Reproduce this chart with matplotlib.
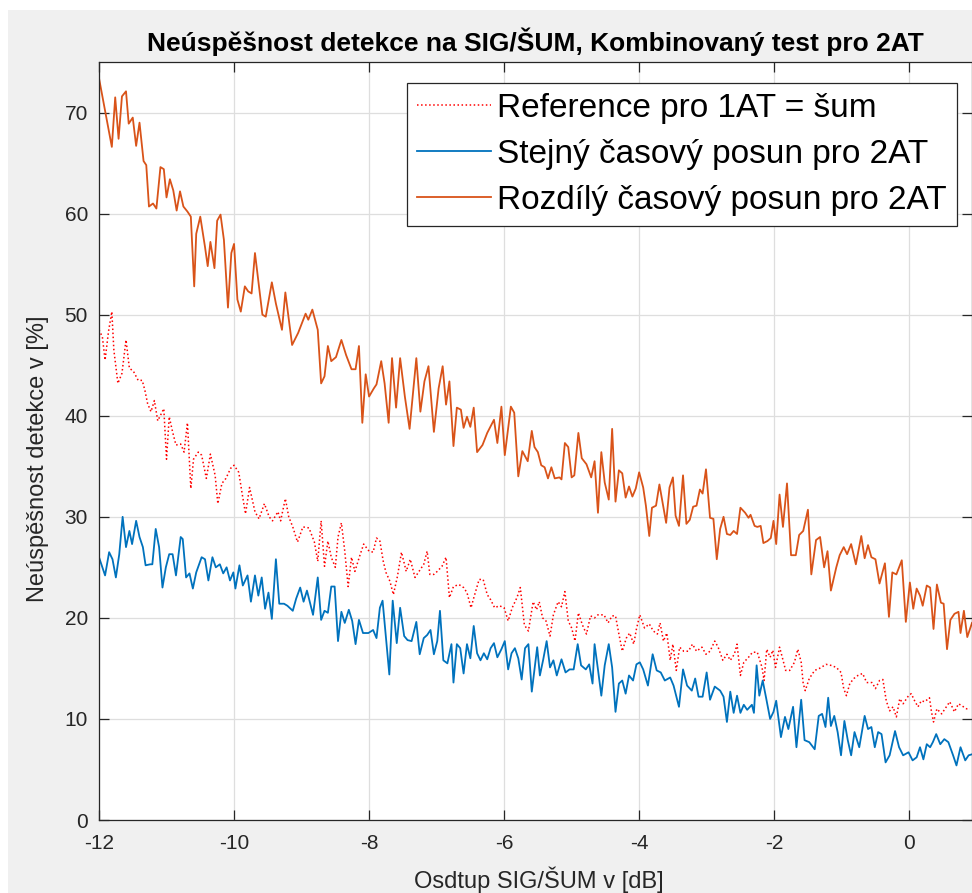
import matplotlib
matplotlib.use("Agg")
import matplotlib.pyplot as plt
from matplotlib.patches import Rectangle

plt.rcParams['font.family'] = ['Liberation Sans', 'DejaVu Sans']

TITLE = "Neúspěšnost detekce na SIG/ŠUM, Kombinovaný test pro 2AT"
XLABEL = "Osdtup SIG/ŠUM v [dB]"
YLABEL = "Neúspěšnost detekce v [%]"
LABELS = ["Reference pro 1AT = šum", "Stejný časový posun pro 2AT", "Rozdílý časový posun pro 2AT"]
XTICKS = [-12, -10, -8, -6, -4, -2, 0]
YTICKS = [0, 10, 20, 30, 40, 50, 60, 70]

# (SNR [dB], failure rate [%])
REFERENCE = [
    (-12.00, 48.5), (-11.95, 47.8), (-11.91, 45.5), (-11.86, 48.3), (-11.81, 50.3), (-11.78, 46.5),
    (-11.72, 43.2), (-11.66, 44.2), (-11.60, 47.5), (-11.55, 44.7), (-11.49, 44.4), (-11.42, 43.5),
    (-11.36, 43.5), (-11.32, 42.5), (-11.28, 41.2), (-11.23, 40.4), (-11.18, 41.5), (-11.13, 39.5),
    (-11.04, 40.7), (-11.00, 35.7), (-10.96, 39.9), (-10.91, 38.4), (-10.86, 37.1), (-10.79, 37.2),
    (-10.74, 36.4), (-10.69, 39.3), (-10.64, 32.8), (-10.60, 35.7), (-10.53, 36.4), (-10.48, 36.1),
    (-10.41, 33.8), (-10.35, 36.2), (-10.28, 34.1), (-10.24, 31.3), (-10.18, 33.3), (-10.12, 33.8),
    (-10.05, 34.8), (-10.00, 35.1), (-9.93, 34.4), (-9.88, 32.3), (-9.83, 30.3), (-9.77, 32.9),
    (-9.69, 30.5), (-9.63, 29.8), (-9.55, 31.3), (-9.48, 30.0), (-9.43, 29.6), (-9.35, 30.5),
    (-9.31, 29.6), (-9.24, 31.8), (-9.19, 30.0), (-9.13, 29.0), (-9.06, 27.5), (-8.98, 29.0),
    (-8.89, 28.9), (-8.81, 27.5), (-8.76, 25.6), (-8.71, 29.6), (-8.66, 25.1), (-8.61, 27.6),
    (-8.56, 26.0), (-8.50, 25.0), (-8.46, 28.0), (-8.41, 29.4), (-8.36, 26.6), (-8.31, 23.1),
    (-8.26, 26.0), (-8.21, 24.6), (-8.14, 26.1), (-8.08, 27.3), (-8.00, 26.6), (-7.94, 26.5),
    (-7.89, 27.9), (-7.84, 27.6), (-7.79, 25.6), (-7.75, 24.5), (-7.69, 23.6), (-7.64, 22.3),
    (-7.58, 24.1), (-7.52, 26.5), (-7.45, 24.6), (-7.39, 25.8), (-7.32, 24.0), (-7.27, 24.5),
    (-7.19, 25.3), (-7.14, 26.6), (-7.10, 24.3), (-7.04, 24.3), (-6.99, 24.6), (-6.92, 25.1),
    (-6.86, 26.0), (-6.81, 22.0), (-6.75, 23.1), (-6.67, 23.3), (-6.60, 23.0), (-6.55, 22.5),
    (-6.49, 21.0), (-6.44, 22.2), (-6.37, 23.8), (-6.31, 23.8), (-6.25, 22.3), (-6.20, 21.8),
    (-6.14, 21.0), (-6.07, 21.2), (-6.00, 21.0), (-5.94, 19.7), (-5.88, 21.0), (-5.81, 22.0),
    (-5.76, 23.0), (-5.70, 19.3), (-5.64, 18.7), (-5.57, 21.6), (-5.52, 20.8), (-5.48, 21.6),
    (-5.43, 20.0), (-5.38, 19.7), (-5.32, 18.2), (-5.27, 20.3), (-5.20, 21.6), (-5.15, 21.1),
    (-5.10, 22.6), (-5.05, 19.7), (-5.00, 19.0), (-4.95, 17.7), (-4.90, 20.5), (-4.84, 19.3),
    (-4.78, 18.4), (-4.72, 20.2), (-4.66, 20.0), (-4.61, 20.3), (-4.52, 20.3), (-4.46, 19.5),
    (-4.40, 20.2), (-4.35, 20.2), (-4.30, 18.4), (-4.25, 16.7), (-4.19, 18.0), (-4.14, 18.5),
    (-4.08, 17.4), (-4.04, 18.9), (-3.99, 20.3), (-3.92, 19.0), (-3.85, 19.4), (-3.79, 18.7),
    (-3.73, 18.4), (-3.69, 19.5), (-3.64, 17.7), (-3.59, 18.5), (-3.54, 15.8), (-3.50, 17.4),
    (-3.45, 14.8), (-3.40, 17.1), (-3.34, 16.7), (-3.27, 16.7), (-3.21, 17.4), (-3.15, 16.7),
    (-3.07, 17.1), (-3.01, 16.4), (-2.95, 16.7), (-2.88, 17.7), (-2.83, 17.1), (-2.76, 15.8),
    (-2.70, 16.4), (-2.65, 15.8), (-2.59, 16.4), (-2.55, 17.4), (-2.50, 14.3), (-2.45, 15.6),
    (-2.38, 16.1), (-2.32, 16.6), (-2.25, 16.6), (-2.18, 15.1), (-2.15, 13.8), (-2.11, 16.9),
    (-2.06, 16.1), (-2.02, 16.8), (-1.98, 15.1), (-1.92, 17.1), (-1.88, 16.1), (-1.83, 14.8),
    (-1.77, 14.8), (-1.70, 15.6), (-1.65, 16.9), (-1.60, 15.6), (-1.57, 13.5), (-1.54, 12.8),
    (-1.48, 14.0), (-1.40, 14.8), (-1.33, 15.0), (-1.23, 15.4), (-1.16, 15.3), (-1.08, 15.1),
    (-1.01, 14.6), (-0.97, 13.0), (-0.93, 12.3), (-0.88, 13.5), (-0.82, 14.0), (-0.76, 14.3),
    (-0.69, 14.5), (-0.63, 13.6), (-0.55, 13.6), (-0.50, 13.0), (-0.44, 13.8), (-0.39, 13.9),
    (-0.34, 11.8), (-0.29, 10.8), (-0.24, 11.2), (-0.19, 10.2), (-0.14, 12.0), (-0.09, 11.5),
    (-0.01, 12.3), (0.03, 12.5), (0.08, 11.8), (0.13, 11.2), (0.18, 11.8), (0.23, 11.7),
    (0.30, 12.1), (0.33, 10.7), (0.36, 9.7), (0.41, 11.0), (0.48, 10.5), (0.53, 11.0),
    (0.60, 11.7), (0.67, 10.7), (0.73, 11.5), (0.78, 11.3), (0.85, 11.0), (0.90, 11.0),
]

SAME_SHIFT = [
    (-12.00, 26.0), (-11.95, 25.0), (-11.91, 24.2), (-11.85, 26.5), (-11.80, 25.8), (-11.75, 24.0),
    (-11.70, 26.3), (-11.65, 30.0), (-11.60, 27.0), (-11.55, 28.6), (-11.51, 27.3), (-11.45, 29.6),
    (-11.40, 28.0), (-11.35, 27.0), (-11.31, 25.2), (-11.24, 25.3), (-11.21, 25.3), (-11.16, 28.8),
    (-11.11, 27.0), (-11.06, 23.0), (-11.01, 25.0), (-10.96, 26.3), (-10.91, 26.3), (-10.86, 24.2),
    (-10.79, 28.0), (-10.76, 27.8), (-10.71, 24.0), (-10.66, 24.4), (-10.61, 22.9), (-10.56, 24.5),
    (-10.48, 26.0), (-10.43, 25.8), (-10.38, 23.7), (-10.32, 26.0), (-10.27, 25.0), (-10.21, 25.3),
    (-10.16, 24.4), (-10.11, 25.0), (-10.06, 23.7), (-10.01, 24.5), (-9.98, 22.9), (-9.92, 25.2),
    (-9.87, 23.2), (-9.80, 24.2), (-9.75, 21.6), (-9.69, 24.2), (-9.64, 22.2), (-9.59, 24.0),
    (-9.54, 20.9), (-9.49, 22.5), (-9.44, 19.9), (-9.38, 25.8), (-9.33, 21.4), (-9.26, 21.4),
    (-9.21, 21.2), (-9.13, 20.7), (-9.08, 21.9), (-9.02, 23.0), (-8.97, 21.6), (-8.92, 22.7),
    (-8.83, 20.3), (-8.76, 24.0), (-8.71, 19.8), (-8.66, 20.7), (-8.61, 20.5), (-8.56, 23.1),
    (-8.51, 23.1), (-8.46, 17.7), (-8.41, 20.6), (-8.36, 19.5), (-8.30, 20.8), (-8.25, 19.7),
    (-8.20, 17.4), (-8.15, 19.8), (-8.09, 18.5), (-8.01, 18.5), (-7.94, 18.8), (-7.89, 18.0),
    (-7.84, 21.0), (-7.80, 21.7), (-7.75, 18.0), (-7.70, 14.4), (-7.65, 21.7), (-7.59, 17.5),
    (-7.54, 21.0), (-7.48, 18.2), (-7.43, 17.8), (-7.37, 17.7), (-7.30, 19.6), (-7.25, 16.4),
    (-7.19, 18.0), (-7.14, 18.3), (-7.09, 18.8), (-7.04, 16.4), (-6.99, 17.7), (-6.95, 20.7),
    (-6.90, 15.8), (-6.84, 15.5), (-6.78, 17.4), (-6.75, 13.6), (-6.70, 17.4), (-6.65, 17.0),
    (-6.60, 14.5), (-6.55, 17.4), (-6.50, 16.0), (-6.45, 19.2), (-6.40, 16.5), (-6.35, 15.8),
    (-6.30, 16.5), (-6.25, 15.9), (-6.20, 17.0), (-6.15, 17.5), (-6.10, 16.1), (-6.04, 16.9),
    (-5.99, 17.7), (-5.94, 14.9), (-5.89, 16.5), (-5.84, 17.0), (-5.79, 16.0), (-5.74, 13.9),
    (-5.69, 17.0), (-5.64, 17.4), (-5.59, 12.7), (-5.51, 17.1), (-5.47, 14.3), (-5.42, 15.9),
    (-5.37, 17.7), (-5.32, 15.1), (-5.27, 15.8), (-5.22, 14.3), (-5.15, 15.9), (-5.09, 14.6),
    (-5.03, 14.9), (-4.97, 14.9), (-4.91, 17.4), (-4.86, 15.3), (-4.79, 14.9), (-4.74, 15.4),
    (-4.69, 13.5), (-4.66, 17.4), (-4.61, 14.9), (-4.56, 12.3), (-4.51, 15.3), (-4.45, 17.4),
    (-4.40, 15.1), (-4.35, 10.7), (-4.30, 13.5), (-4.25, 13.8), (-4.20, 12.5), (-4.15, 14.3),
    (-4.09, 13.8), (-4.04, 15.4), (-3.99, 15.6), (-3.94, 14.9), (-3.87, 13.3), (-3.80, 16.4),
    (-3.74, 14.8), (-3.68, 14.6), (-3.62, 13.8), (-3.54, 14.1), (-3.49, 13.3), (-3.41, 11.2),
    (-3.35, 14.9), (-3.29, 13.3), (-3.22, 12.8), (-3.17, 14.0), (-3.12, 12.2), (-3.06, 12.2),
    (-3.00, 14.6), (-2.95, 11.9), (-2.88, 13.2), (-2.80, 12.8), (-2.75, 12.2), (-2.70, 9.7),
    (-2.65, 12.7), (-2.60, 10.6), (-2.55, 12.3), (-2.50, 10.6), (-2.45, 11.4), (-2.40, 10.9),
    (-2.33, 11.4), (-2.30, 10.6), (-2.26, 15.3), (-2.22, 12.3), (-2.17, 13.8), (-2.12, 12.1),
    (-2.06, 10.0), (-2.01, 10.7), (-1.97, 11.8), (-1.90, 8.2), (-1.84, 10.2), (-1.79, 9.0),
    (-1.72, 11.2), (-1.67, 7.2), (-1.60, 11.9), (-1.55, 7.9), (-1.48, 7.7), (-1.40, 7.0),
    (-1.34, 10.3), (-1.29, 10.5), (-1.24, 9.2), (-1.20, 12.1), (-1.16, 9.3), (-1.11, 10.3),
    (-1.06, 8.7), (-1.01, 6.4), (-0.96, 9.8), (-0.91, 7.9), (-0.86, 6.4), (-0.81, 8.7),
    (-0.74, 7.2), (-0.66, 10.3), (-0.61, 9.0), (-0.56, 9.2), (-0.51, 7.2), (-0.46, 8.7),
    (-0.41, 8.5), (-0.35, 5.7), (-0.29, 6.4), (-0.21, 8.8), (-0.15, 7.2), (-0.09, 6.4),
    (-0.01, 6.7), (0.05, 5.9), (0.11, 6.2), (0.16, 7.2), (0.21, 6.0), (0.26, 7.5),
    (0.31, 7.2), (0.35, 7.7), (0.40, 8.5), (0.46, 7.5), (0.52, 8.0), (0.58, 7.7),
    (0.65, 6.4), (0.70, 5.4), (0.76, 7.2), (0.83, 5.9), (0.88, 6.4), (0.93, 6.5),
]

DIFF_SHIFT = [
    (-12.00, 73.4), (-11.91, 70.2), (-11.81, 66.6), (-11.76, 71.5), (-11.71, 67.4), (-11.66, 71.6),
    (-11.60, 72.1), (-11.56, 68.9), (-11.50, 69.5), (-11.45, 66.7), (-11.40, 69.0), (-11.34, 65.2),
    (-11.30, 64.8), (-11.26, 60.7), (-11.20, 61.0), (-11.15, 60.5), (-11.09, 64.6), (-11.04, 64.4),
    (-11.00, 61.6), (-10.95, 63.4), (-10.90, 62.3), (-10.85, 60.3), (-10.80, 62.2), (-10.75, 60.7),
    (-10.69, 60.2), (-10.64, 59.7), (-10.59, 52.8), (-10.56, 58.0), (-10.50, 59.7), (-10.43, 56.7),
    (-10.39, 54.8), (-10.35, 57.2), (-10.29, 54.6), (-10.25, 59.3), (-10.20, 59.9), (-10.15, 57.4),
    (-10.09, 50.7), (-10.04, 56.1), (-10.00, 57.0), (-9.95, 51.5), (-9.90, 50.3), (-9.84, 52.8),
    (-9.79, 52.3), (-9.74, 52.1), (-9.69, 56.1), (-9.63, 52.8), (-9.58, 50.0), (-9.53, 49.8),
    (-9.44, 53.2), (-9.38, 51.1), (-9.29, 48.5), (-9.24, 52.2), (-9.14, 47.0), (-9.05, 48.2),
    (-8.94, 50.1), (-8.90, 49.5), (-8.84, 50.5), (-8.76, 48.5), (-8.71, 43.2), (-8.66, 43.9),
    (-8.61, 46.9), (-8.56, 45.4), (-8.49, 45.8), (-8.41, 47.5), (-8.34, 46.0), (-8.26, 44.6),
    (-8.20, 44.6), (-8.15, 46.9), (-8.10, 39.3), (-8.05, 44.1), (-8.00, 41.9), (-7.93, 42.7),
    (-7.89, 43.1), (-7.82, 45.4), (-7.77, 43.2), (-7.71, 39.3), (-7.66, 45.7), (-7.60, 40.8),
    (-7.54, 45.7), (-7.47, 41.9), (-7.40, 38.7), (-7.30, 45.7), (-7.24, 40.4), (-7.18, 43.4),
    (-7.12, 44.9), (-7.04, 38.4), (-6.97, 42.7), (-6.91, 44.9), (-6.86, 41.1), (-6.81, 43.4),
    (-6.75, 37.0), (-6.70, 40.8), (-6.64, 40.6), (-6.60, 38.8), (-6.55, 39.9), (-6.50, 38.9),
    (-6.45, 40.8), (-6.40, 36.4), (-6.32, 37.1), (-6.25, 38.3), (-6.15, 39.6), (-6.10, 37.3),
    (-6.04, 40.9), (-5.99, 36.1), (-5.90, 40.9), (-5.85, 40.3), (-5.79, 34.0), (-5.73, 36.5),
    (-5.65, 35.5), (-5.59, 38.5), (-5.55, 36.9), (-5.50, 36.4), (-5.45, 35.1), (-5.40, 34.9),
    (-5.35, 33.8), (-5.30, 34.9), (-5.25, 33.8), (-5.18, 33.9), (-5.15, 33.7), (-5.10, 37.3),
    (-5.05, 36.9), (-5.00, 33.9), (-4.96, 34.1), (-4.90, 38.3), (-4.85, 35.8), (-4.78, 35.2),
    (-4.71, 33.9), (-4.66, 35.5), (-4.61, 30.4), (-4.56, 36.4), (-4.51, 33.4), (-4.45, 31.7),
    (-4.40, 38.7), (-4.35, 31.5), (-4.30, 34.6), (-4.25, 34.3), (-4.20, 31.9), (-4.15, 33.0),
    (-4.10, 32.0), (-4.05, 32.8), (-4.00, 34.4), (-3.94, 32.9), (-3.90, 31.1), (-3.85, 28.1),
    (-3.81, 30.9), (-3.75, 31.1), (-3.70, 33.2), (-3.65, 31.3), (-3.60, 29.4), (-3.55, 32.9),
    (-3.50, 33.9), (-3.46, 30.1), (-3.41, 29.1), (-3.35, 34.1), (-3.30, 29.3), (-3.25, 29.7),
    (-3.20, 31.0), (-3.15, 31.1), (-3.10, 32.7), (-3.06, 32.3), (-3.01, 34.7), (-2.95, 29.9),
    (-2.90, 29.8), (-2.85, 25.8), (-2.80, 28.8), (-2.75, 30.0), (-2.70, 28.3), (-2.65, 28.2),
    (-2.60, 28.6), (-2.55, 28.3), (-2.50, 30.9), (-2.43, 30.4), (-2.38, 29.9), (-2.35, 30.2),
    (-2.29, 29.1), (-2.25, 29.0), (-2.20, 29.1), (-2.16, 27.4), (-2.10, 27.6), (-2.05, 27.9),
    (-2.01, 29.6), (-1.97, 27.3), (-1.92, 32.2), (-1.87, 29.0), (-1.81, 33.3), (-1.75, 26.2),
    (-1.68, 26.2), (-1.63, 28.2), (-1.57, 28.6), (-1.50, 30.7), (-1.45, 24.3), (-1.38, 27.7),
    (-1.32, 28.0), (-1.26, 25.0), (-1.21, 26.6), (-1.16, 22.7), (-1.08, 25.0), (-1.03, 26.2),
    (-0.97, 27.0), (-0.92, 26.3), (-0.86, 27.3), (-0.79, 25.3), (-0.71, 28.1), (-0.66, 25.9),
    (-0.61, 27.2), (-0.56, 26.0), (-0.50, 25.8), (-0.44, 23.4), (-0.36, 25.4), (-0.30, 20.1),
    (-0.25, 24.5), (-0.19, 24.3), (-0.11, 25.7), (-0.05, 19.6), (0.01, 23.5), (0.06, 20.9),
    (0.11, 22.9), (0.16, 22.2), (0.20, 21.2), (0.26, 23.2), (0.31, 23.0), (0.36, 18.9),
    (0.41, 23.3), (0.47, 21.5), (0.51, 21.4), (0.56, 16.9), (0.61, 19.8), (0.67, 20.4),
    (0.73, 20.6), (0.76, 18.5), (0.81, 20.7), (0.86, 18.1), (0.93, 19.5),
]

W, H = 972, 893
fig = plt.figure(figsize=(W / 100, H / 100), dpi=100, facecolor='#f0f0f0')
# white screenshot margins (top and left)
fig.patches.append(Rectangle((0, 1 - 10 / H), 1, 10 / H, transform=fig.transFigure,
                             facecolor='white', edgecolor='none', zorder=-1))
fig.patches.append(Rectangle((0, 0), 8 / W, 1, transform=fig.transFigure,
                             facecolor='white', edgecolor='none', zorder=-1))

L, R, T, B = 99, 972, 62, 820
ax = fig.add_axes([L / W, 1 - B / H, (R - L) / W, (B - T) / H])
ax.set_facecolor('white')

ax.plot([p[0] for p in REFERENCE], [p[1] for p in REFERENCE], ':', color='#ff0000', lw=1.1,
        label=LABELS[0])
ax.plot([p[0] for p in SAME_SHIFT], [p[1] for p in SAME_SHIFT], '-', color='#0072bd', lw=1.3,
        label=LABELS[1])
ax.plot([p[0] for p in DIFF_SHIFT], [p[1] for p in DIFF_SHIFT], '-', color='#d95319', lw=1.3,
        label=LABELS[2])

ax.set_xlim(-12, 0.93)
ax.set_ylim(0, 75)
ax.set_xticks(XTICKS)
ax.set_yticks(YTICKS)
ax.set_xticklabels([str(v) for v in XTICKS])
ax.grid(True, color='#dedede', lw=0.9)
ax.set_axisbelow(True)
for s in ax.spines.values():
    s.set_color('#262626')
    s.set_linewidth(0.9)
ax.tick_params(direction='in', top=True, right=True, length=7, width=0.9,
               colors='#262626', labelsize=15)
ax.tick_params(axis='x', pad=10)
ax.tick_params(axis='y', pad=8)

ax.set_title(TITLE, fontsize=19, fontweight='bold', color='black', pad=8)
ax.set_xlabel(XLABEL, fontsize=17, color='#262626')
ax.set_ylabel(YLABEL, fontsize=17, color='#262626')
ax.xaxis.set_label_coords((539 - L) / (R - L), -(880 - B) / (B - T))
ax.xaxis.label.set_va('center')
ax.yaxis.set_label_coords(-(L - 38) / (R - L), (B - 459) / (B - T))
ax.yaxis.label.set_va('center')

leg = ax.legend(loc='upper right', bbox_to_anchor=(957 / W, 1 - 83 / H),
                bbox_transform=fig.transFigure, borderaxespad=0, fontsize=24,
                frameon=True, fancybox=False, framealpha=1, edgecolor='#262626',
                handlelength=2.2, handletextpad=0.2, labelspacing=0.45, borderpad=0.3)
leg.get_frame().set_linewidth(0.9)
for t in leg.get_texts():
    t.set_color('black')

fig.savefig('out.png', dpi=100, facecolor=fig.get_facecolor())
